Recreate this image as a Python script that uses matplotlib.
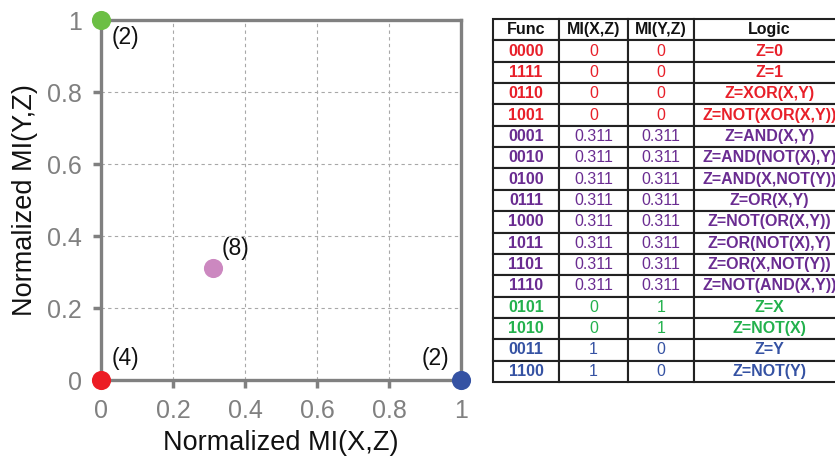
import numpy as np
import matplotlib
matplotlib.use('Agg')
import matplotlib.pyplot as plt

plt.rcParams['font.family'] = ['Liberation Sans', 'DejaVu Sans']

# two-input boolean functions and their normalized mutual information
funcs = ['0000', '1111', '0110', '1001', '0001', '0010', '0100', '0111',
         '1000', '1011', '1101', '1110', '0101', '1010', '0011', '1100']
mi_xz = [0, 0, 0, 0, 0.311, 0.311, 0.311, 0.311,
         0.311, 0.311, 0.311, 0.311, 0, 0, 1, 1]
mi_yz = [0, 0, 0, 0, 0.311, 0.311, 0.311, 0.311,
         0.311, 0.311, 0.311, 0.311, 1, 1, 0, 0]
logic = ['Z=0', 'Z=1', 'Z=XOR(X,Y)', 'Z=NOT(XOR(X,Y))', 'Z=AND(X,Y)',
         'Z=AND(NOT(X),Y)', 'Z=AND(X,NOT(Y))', 'Z=OR(X,Y)', 'Z=NOT(OR(X,Y))',
         'Z=OR(NOT(X),Y)', 'Z=OR(X,NOT(Y))', 'Z=NOT(AND(X,Y))',
         'Z=X', 'Z=NOT(X)', 'Z=Y', 'Z=NOT(Y)']
group = [0, 0, 0, 0, 1, 1, 1, 1, 1, 1, 1, 1, 2, 2, 3, 3]
col_labels = ['Func', 'MI(X,Z)', 'MI(Y,Z)', 'Logic']

text_colors = ['#e8202a', '#6a2c91', '#23b14d', '#3552a3']
dot_colors = ['#ec1c24', '#cc88c0', '#6cbf45', '#3552a3']

fig = plt.figure(figsize=(8.35, 4.58), dpi=100)

# scatter of the distinct (MI(X,Z), MI(Y,Z)) points
ax = fig.add_axes([101/835, 1-380/458, 360/835, 360/458])
grey = '#808080'
pts = {}
for i in range(len(funcs)):
    key = (mi_xz[i], mi_yz[i])
    if key not in pts:
        pts[key] = [group[i], 0]
    pts[key][1] += 1

label_off = {0: (8, 7), 1: (6, 6), 2: (8, -21), 3: (-28, 7)}
for (x, y), (g, n) in pts.items():
    ax.scatter([x], [y], s=190, color=dot_colors[g], zorder=5, clip_on=False,
               linewidths=0)
    dx, dy = label_off[g]
    ax.annotate('(%d)' % n, (x, y), xytext=(dx, dy), textcoords='offset points',
                fontsize=16.5, color='#111111', va='bottom')

ticks = [0, 0.2, 0.4, 0.6, 0.8, 1]
tick_labels = ['0', '0.2', '0.4', '0.6', '0.8', '1']
ax.set_xlim(0, 1)
ax.set_ylim(0, 1)
ax.set_xticks(ticks)
ax.set_xticklabels(tick_labels)
ax.set_yticks(ticks)
ax.set_yticklabels(tick_labels)
ax.tick_params(colors=grey, labelsize=18, width=2.5, length=6, direction='out',
               pad=8)
for sp in ax.spines.values():
    sp.set_color(grey)
    sp.set_linewidth(2.4)
ax.grid(True, linestyle=(0, (3, 3)), color='#a8a8a8', linewidth=0.8)
ax.set_axisbelow(True)
ax.set_xlabel('Normalized MI(X,Z)', fontsize=19.5, color='#111111', labelpad=5)
ax.set_ylabel('Normalized MI(Y,Z)', fontsize=19.5, color='#111111', labelpad=6)

# lookup table on the right
tax = fig.add_axes([493/835, 1-382/458, 352/835, 363/458])
tax.axis('off')
cells = []
for i in range(len(funcs)):
    cells.append([funcs[i], '%g' % mi_xz[i], '%g' % mi_yz[i], logic[i]])
tab = tax.table(cellText=cells, colLabels=col_labels, bbox=[0, 0, 1, 1],
                colWidths=[66, 69, 66, 151], cellLoc='center')
tab.auto_set_font_size(False)
tab.set_fontsize(11.5)
for (r, c), cell in tab.get_celld().items():
    cell.set_linewidth(1.5)
    cell.set_edgecolor('#222222')
    t = cell.get_text()
    if r == 0:
        t.set_weight('bold')
        t.set_color('#111111')
    else:
        t.set_color(text_colors[group[r-1]])
        if c in (0, 3):
            t.set_weight('bold')

fig.savefig('out.png', dpi=100)
